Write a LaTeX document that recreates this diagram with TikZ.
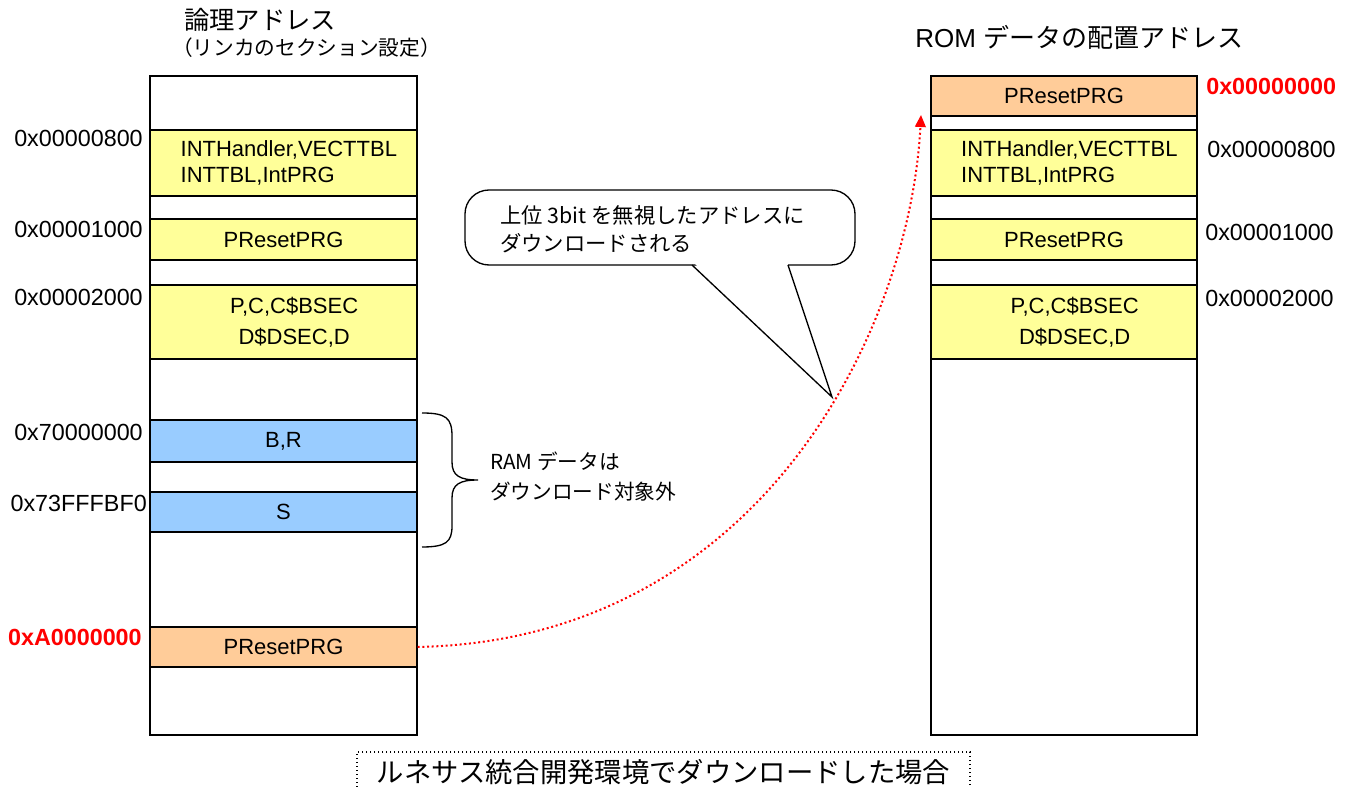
\documentclass[tikz,border=0pt]{standalone}
\usepackage{fontspec}
\setmainfont{Liberation Sans}
\newfontfamily\jp{Noto Sans CJK JP}
\usetikzlibrary{arrows.meta}
\definecolor{memyellow}{HTML}{FFFF99}
\definecolor{memblue}{HTML}{99CCFF}
\definecolor{memorange}{HTML}{FFCC99}
\tikzstyle{memcol} = [rectangle, draw, line width=1.3pt, minimum width=200pt, minimum height=494.25pt, inner sep=0pt]
\tikzstyle{block} = [rectangle, draw, line width=1.3pt, minimum width=200pt, inner sep=0pt, align=center, font=\fontsize{16.5pt}{19.5pt}\selectfont]
\tikzstyle{yelblock} = [block, fill=memyellow]
\tikzstyle{blublock} = [block, fill=memblue]
\tikzstyle{orgblock} = [block, fill=memorange]
\tikzstyle{addr} = [inner sep=0pt, font=\fontsize{17.5pt}{20pt}\selectfont]
\tikzstyle{redaddr} = [inner sep=0pt, text=red, font=\fontsize{17.5pt}{20pt}\selectfont\bfseries]
\tikzstyle{title} = [inner sep=0pt, font=\fontsize{19pt}{22pt}\selectfont\jp]
\tikzstyle{note} = [inner sep=0pt, align=left, font=\fontsize{16pt}{21pt}\selectfont\jp]
\tikzstyle{arrow} = [red, dotted, line width=1.5pt, -{Triangle[length=9pt,width=8pt]}]

\begin{document}
\begin{tikzpicture}[x=0.75pt, y=-0.75pt]
               \useasboundingbox (0,0) rectangle (1354,787);
               \node [title, anchor=west] at (184,20) (ltitle) {論理アドレス};
               \node [title, anchor=west, font=\fontsize{15.5pt}{18pt}\selectfont\jp] at (172,48) (lsub) {（リンカのセクション設定）};
               \node [title, anchor=west, font=\fontsize{19.5pt}{22pt}\selectfont\jp] at (915,37) (rtitle) {\rmfamily ROM \jp データの配置アドレス};
               \node [memcol] at (283.5,405.5) (lcol) {};
               \node [memcol] at (1064,405.5) (rcol) {};
               \node [yelblock, align=left, minimum height=49.5pt] at (283.5,163) (lint) {\hspace*{8pt}INTHandler,VECTTBL\\\hspace*{8pt}INTTBL,IntPRG};
               \node [yelblock, minimum height=30.75pt] at (283.5,239.5) (lres1) {PResetPRG};
               \node [yelblock, minimum height=55.5pt] at (283.5,322) (lpc) {\hspace*{16pt}P,C,C\$BSEC\\[4pt]\hspace*{16pt}D\$DSEC,D};
               \node [blublock, minimum height=31.5pt] at (283.5,441) (lbr) {B,R};
               \node [blublock, minimum height=30pt] at (283.5,512) (ls) {S};
               \node [orgblock, minimum height=30pt] at (283.5,647) (lres) {PResetPRG};
               \node [orgblock, minimum height=30pt] at (1064,96) (rres) {PResetPRG};
               \node [yelblock, align=left, minimum height=49.5pt] at (1064,163) (rint) {\hspace*{8pt}INTHandler,VECTTBL\\\hspace*{8pt}INTTBL,IntPRG};
               \node [yelblock, minimum height=30.75pt] at (1064,239.5) (rres1) {PResetPRG};
               \node [yelblock, minimum height=55.5pt] at (1064,322) (rpc) {\hspace*{16pt}P,C,C\$BSEC\\[4pt]\hspace*{16pt}D\$DSEC,D};
               \node [addr, anchor=east] at (143,138) (a800) {0x00000800};
               \node [addr, anchor=east] at (143,229) (a1000) {0x00001000};
               \node [addr, anchor=east] at (143,297) (a2000) {0x00002000};
               \node [addr, anchor=east] at (143,432) (a7000) {0x70000000};
               \node [addr, anchor=east] at (147,503) (a73ff) {0x73FFFBF0};
               \node [redaddr, anchor=east] at (142,637) (aa000) {0xA0000000};
               \node [redaddr, anchor=west] at (1206,86) (b0000) {0x00000000};
               \node [addr, anchor=west] at (1207,149) (b800) {0x00000800};
               \node [addr, anchor=west] at (1205,232) (b1000) {0x00001000};
               \node [addr, anchor=west] at (1205,298) (b2000) {0x00002000};
               % balloon
               \draw [line width=1pt, fill=white, rounded corners=18pt] (465,190) rectangle (855,265);
               \fill [white] (693,262) -- (787,262) -- (832,397) -- cycle;
               \draw [line width=1pt] (692,265) -- (832,397) -- (788,265);
               \node [note, anchor=west] at (500,229) (balloon) {上位 3bit を無視したアドレスに\\ダウンロードされる};
               % brace
               \draw [line width=1pt] (422,413) .. controls (446,413) and (452,418) .. (452,436) -- (452,462) .. controls (452,476) and (460,480) .. (478,480) .. controls (460,480) and (452,484) .. (452,498) -- (452,526) .. controls (452,542) and (446,547) .. (422,547);
               \node [note, anchor=west, font=\fontsize{15.5pt}{22.5pt}\selectfont\jp] at (490,477) (ramnote) {RAM データは\\ダウンロード対象外};
               \coordinate (arrtip) at (921,115);
               \draw [arrow] (lres.east) .. controls (760,640) and (910,330) .. (arrtip);
               \node [draw, dotted, line width=1pt, minimum width=459.75pt, minimum height=30pt, font=\fontsize{20.5pt}{24pt}\selectfont\jp] at (663.5,772) (caption) {ルネサス統合開発環境でダウンロードした場合};
\end{tikzpicture}
\end{document}
